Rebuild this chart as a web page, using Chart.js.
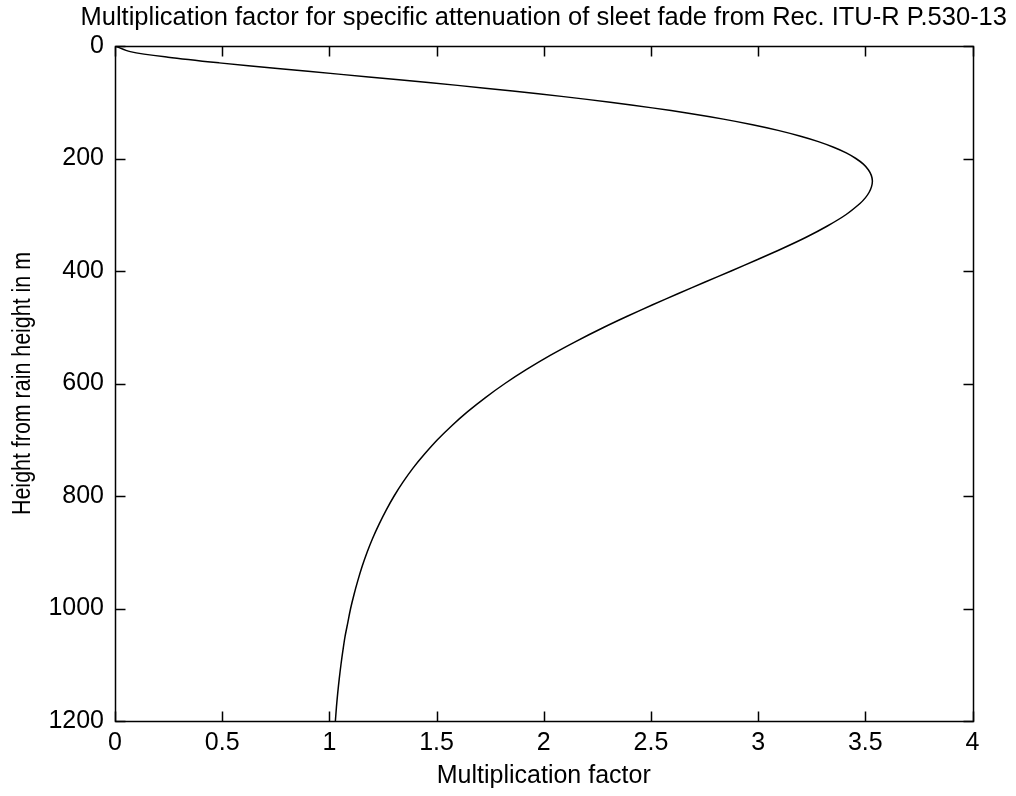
<!DOCTYPE html>
<html>
<head>
<meta charset="utf-8">
<script src="https://cdn.jsdelivr.net/npm/chart.js@4/dist/chart.umd.min.js"></script>
<style>
  html, body { margin: 0; padding: 0; background: #ffffff; }
  #c { display: block; }
</style>
</head>
<body>
<canvas id="c" width="1016" height="796"></canvas>
<script>
// ---- data ----
const heights = [0,10,20,30,40,50,60,70,80,90,100,110,120,130,140,150,160,170,180,190,200,210,220,230,240,250,260,270,280,300,320,340,360,380,400,420,440,460,480,500,525,550,575,600,625,650,675,700,725,750,775,800,825,850,875,900,925,950,975,1000,1025,1050,1075,1100,1125,1150,1175,1200];
const factors = [0,0.071,0.247,0.486,0.758,1.042,1.325,1.598,1.855,2.093,2.310,2.506,2.682,2.838,2.974,3.093,3.194,3.281,3.352,3.411,3.456,3.491,3.514,3.528,3.533,3.529,3.518,3.500,3.475,3.409,3.323,3.224,3.113,2.995,2.874,2.750,2.628,2.508,2.392,2.281,2.151,2.030,1.920,1.819,1.728,1.645,1.571,1.504,1.445,1.391,1.344,1.302,1.265,1.232,1.202,1.176,1.153,1.133,1.115,1.099,1.086,1.073,1.063,1.054,1.046,1.039,1.033,1.028];
const xTickValues = [0,0.5,1,1.5,2,2.5,3,3.5,4];
const yTickValues = [0,200,400,600,800,1000,1200];
const titleText = 'Multiplication factor for specific attenuation of sleet fade from Rec. ITU-R P.530-13';
const xTitle = 'Multiplication factor';
const yTitle = 'Height from rain height in m';

const FONT = '"Liberation Sans", Arial, Helvetica, sans-serif';
const points = heights.map((h, i) => ({ x: factors[i], y: h }));

// frame, inward tick marks (MATLAB style), title and y-axis label
const framePlugin = {
  id: 'frame',
  afterDraw(chart) {
    const { ctx, chartArea: a, scales } = chart;
    const L = Math.round(a.left) + 0.5, R = Math.round(a.right) + 0.5;
    const T = Math.round(a.top) + 0.5, B = Math.round(a.bottom) + 0.5;
    ctx.save();
    ctx.strokeStyle = '#000';
    ctx.lineWidth = 1.5;
    ctx.strokeRect(L, T, R - L, B - T);
    const tl = 10;
    ctx.beginPath();
    xTickValues.forEach(v => {
      const px = Math.round(scales.x.getPixelForValue(v)) + 0.5;
      ctx.moveTo(px, B); ctx.lineTo(px, B - tl);
      ctx.moveTo(px, T); ctx.lineTo(px, T + tl);
    });
    yTickValues.forEach(v => {
      const py = Math.round(scales.y.getPixelForValue(v)) + 0.5;
      ctx.moveTo(L, py); ctx.lineTo(L + tl, py);
      ctx.moveTo(R, py); ctx.lineTo(R - tl, py);
    });
    ctx.stroke();

    // title, centred over the plot area
    ctx.fillStyle = '#000';
    ctx.font = '25.5px ' + FONT;
    ctx.textAlign = 'center';
    ctx.textBaseline = 'middle';
    ctx.fillText(titleText, (a.left + a.right) / 2, 18);

    // y-axis label (rotated)
    ctx.font = '25px ' + FONT;
    ctx.translate(23, (a.top + a.bottom) / 2);
    ctx.rotate(-Math.PI / 2);
    ctx.fillText(yTitle, 0, 0, 263);
    ctx.restore();
  }
};

new Chart(document.getElementById('c'), {
  type: 'scatter',
  data: {
    datasets: [{
      data: points,
      showLine: true,
      borderColor: '#000',
      borderWidth: 1.5,
      pointRadius: 0,
      tension: 0.3,
      fill: false
    }]
  },
  options: {
    responsive: false,
    animation: false,
    devicePixelRatio: 1,
    layout: { padding: { left: 0, right: 43.5, top: 46, bottom: 0 } },
    plugins: {
      legend: { display: false },
      tooltip: { enabled: false },
      title: { display: false }
    },
    scales: {
      x: {
        type: 'linear',
        min: 0, max: 4,
        grid: { display: false, drawTicks: false },
        border: { display: false },
        afterBuildTicks: s => { s.ticks = xTickValues.map(v => ({ value: v })); },
        afterFit: s => { s.height = 75; },
        ticks: {
          color: '#000',
          padding: 7,
          maxRotation: 0,
          font: { family: FONT, size: 25 },
          callback: v => String(v)
        },
        title: {
          display: true,
          text: xTitle,
          color: '#000',
          font: { family: FONT, size: 25 },
          padding: { top: 0, bottom: 5 }
        }
      },
      y: {
        type: 'linear',
        reverse: true,
        min: 0, max: 1200,
        grid: { display: false, drawTicks: false },
        border: { display: false },
        afterBuildTicks: s => { s.ticks = yTickValues.map(v => ({ value: v })); },
        afterFit: s => { s.width = 115; },
        ticks: {
          color: '#000',
          padding: 11,
          font: { family: FONT, size: 25 },
          callback: v => String(v)
        },
        title: { display: false }
      }
    }
  },
  plugins: [framePlugin]
});
</script>
</body>
</html>
